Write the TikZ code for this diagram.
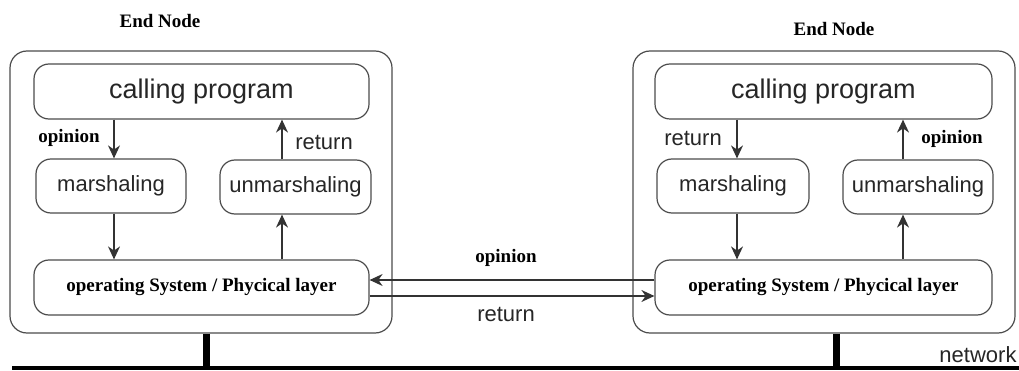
\documentclass[tikz,border=0pt]{standalone}
\usepackage{fontspec}
\setmainfont{Liberation Serif}
\newfontfamily\sansfont{Liberation Sans}
\usetikzlibrary{arrows.meta}

\begin{document}
\begin{tikzpicture}[x=1pt, y=-1pt, line width=1.2pt,
  outerbox/.style={draw=black!70, rounded corners=17pt, minimum width=382pt, minimum height=282pt},
  roundbox/.style={draw=black!70, rounded corners=15pt, inner sep=0pt},
  arr/.style={-{Stealth[length=13pt, width=12pt]}, draw=black!80},
  sanstext/.style={font=\sansfont\fontsize{22}{24}\selectfont, text=black!85},
  boldtext/.style={font=\bfseries\fontsize{19}{21}\selectfont}]
  \useasboundingbox (0,0) rectangle (1019,371);

  % left end node
  \node[boldtext] (lhead) at (160,21) {End Node};
  \node[outerbox] (lend) at (201,192) {};
  \node[roundbox, minimum width=335pt, minimum height=55pt, sanstext, font=\sansfont\fontsize{27}{30}\selectfont] (lcall) at (201.5,91.5) {calling program};
  \node[roundbox, minimum width=150pt, minimum height=54pt, sanstext] (lmarsh) at (111,186) {marshaling};
  \node[roundbox, minimum width=151pt, minimum height=54pt, sanstext] (lunmarsh) at (295.5,187) {unmarshaling};
  \node[roundbox, minimum width=335pt, minimum height=55pt, boldtext] (los) at (201.5,287.5) {operating System / Phycical layer};

  \coordinate (lcolA) at (114,0);
  \coordinate (lcolB) at (282,0);
  \draw[arr] (lcall.south -| lcolA) -- (lmarsh.north -| lcolA);
  \draw[arr] (lmarsh.south -| lcolA) -- (los.north -| lcolA);
  \draw[arr] (los.north -| lcolB) -- (lunmarsh.south -| lcolB);
  \draw[arr] (lunmarsh.north -| lcolB) -- (lcall.south -| lcolB);
  \node[boldtext] (lopin) at (69,138) {opinion};
  \node[sanstext] (lret) at (324,142) {return};

  % right end node
  \node[boldtext] (rhead) at (834,29) {End Node};
  \node[outerbox] (rend) at (824,192) {};
  \node[roundbox, minimum width=337pt, minimum height=55pt, sanstext, font=\sansfont\fontsize{27}{30}\selectfont] (rcall) at (823.5,91.5) {calling program};
  \node[roundbox, minimum width=152pt, minimum height=54pt, sanstext] (rmarsh) at (733,186) {marshaling};
  \node[roundbox, minimum width=150pt, minimum height=54pt, sanstext] (runmarsh) at (918,187) {unmarshaling};
  \node[roundbox, minimum width=337pt, minimum height=55pt, boldtext] (ros) at (823.5,287.5) {operating System / Phycical layer};

  \coordinate (rcolA) at (737,0);
  \coordinate (rcolB) at (903,0);
  \draw[arr] (rcall.south -| rcolA) -- (rmarsh.north -| rcolA);
  \draw[arr] (rmarsh.south -| rcolA) -- (ros.north -| rcolA);
  \draw[arr] (ros.north -| rcolB) -- (runmarsh.south -| rcolB);
  \draw[arr] (runmarsh.north -| rcolB) -- (rcall.south -| rcolB);
  \node[sanstext] (rret) at (693,138) {return};
  \node[boldtext] (ropin) at (952,139) {opinion};

  % between the two nodes
  \draw[arr] ([yshift=7.5pt]ros.west) -- ([yshift=7.5pt]los.east);
  \draw[arr] ([yshift=-8.5pt]los.east) -- ([yshift=-8.5pt]ros.west);
  \node[boldtext] (mopin) at (506,258) {opinion};
  \node[sanstext] (mret) at (506,314) {return};

  % network
  \coordinate (netL) at (12,368);
  \coordinate (netR) at (1019,368);
  \draw[line width=4pt] (netL) -- (netR);
  \draw[line width=7pt] (lend.south -| 206,0) -- (netL -| 206,0);
  \draw[line width=7pt] (rend.south -| 836,0) -- (netL -| 836,0);
  \node[sanstext] (net) at (978,355) {network};
\end{tikzpicture}
\end{document}
